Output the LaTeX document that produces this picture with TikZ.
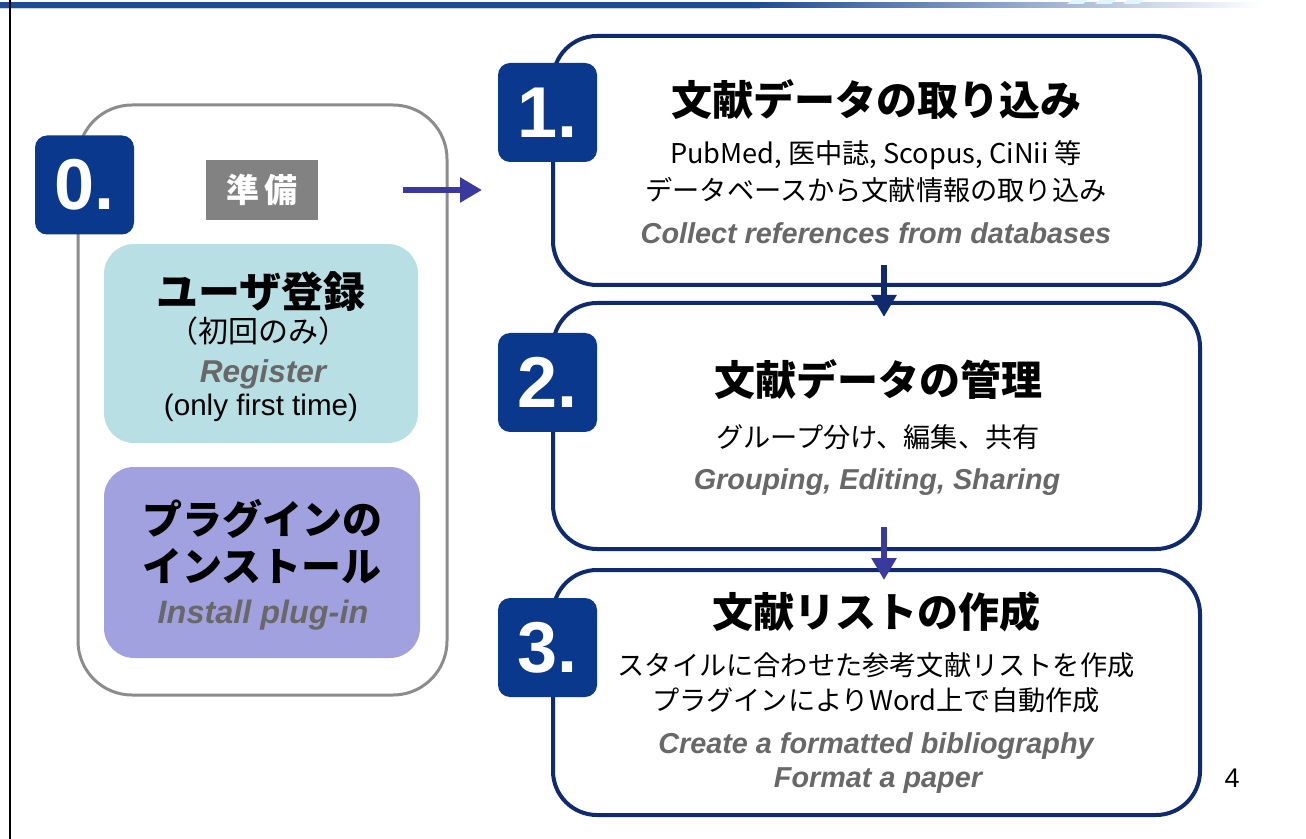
\documentclass[tikz,border=0pt]{standalone}
\usepackage{fontspec}
\setmainfont{Liberation Sans}
\newfontfamily\jp{Noto Sans CJK JP}
\usetikzlibrary{arrows.meta}
\definecolor{navy}{RGB}{16,42,112}
\definecolor{badgeblue}{RGB}{10,56,140}
\definecolor{arrowviolet}{RGB}{58,58,158}
\definecolor{barblue}{RGB}{30,76,150}
\definecolor{tealbox}{RGB}{184,223,228}
\definecolor{violetbox}{RGB}{161,161,224}
\definecolor{greytext}{RGB}{104,104,104}
\definecolor{greyline}{RGB}{140,140,140}
\pgfdeclarehorizontalshading{barfade}{100bp}{color(0bp)=(barblue); color(25bp)=(barblue); color(55bp)=(barblue); color(75bp)=(white); color(100bp)=(white)}
\begin{document}
\begin{tikzpicture}[x=0.5pt,y=-0.5pt,
  stepbox/.style={draw=navy,line width=2pt,rounded corners=22pt,fill=white,
    minimum width=323.5pt,inner sep=0pt},
  badge/.style={fill=badgeblue,rounded corners=6pt,minimum width=49.5pt,
    minimum height=49.5pt,inner sep=0pt,text=white,font=\bfseries\fontsize{36}{36}\selectfont},
  title/.style={font=\jp\bfseries\fontsize{20.5}{24}\selectfont},
  jtext/.style={font=\jp\fontsize{13.6}{16}\selectfont},
  entext/.style={text=greytext,font=\bfseries\itshape\fontsize{14.4}{17}\selectfont},
  flow/.style={line width=3pt,-{Triangle[length=11pt,width=12pt]}}]
\useasboundingbox (0,0) rectangle (1306,839);
% header bar and margin line
\shade[shading=barfade] (0,3) rectangle (1262,8);
\fill[barblue!25] (0,8) rectangle (760,9.5);
\fill[cyan!12] (1072,0) -- (1088,0) -- (1083,4) -- (1067,4) -- cycle;
\fill[cyan!12] (1100,0) -- (1116,0) -- (1111,4) -- (1095,4) -- cycle;
\fill[cyan!12] (1128,0) -- (1144,0) -- (1139,4) -- (1123,4) -- cycle;
\draw[black,line width=1pt] (10,0) -- (10,839);

% step 0
\node[draw=greyline,line width=1.5pt,rounded corners=27pt,minimum width=184.5pt,
  minimum height=295pt] (prep) at (262.5,400) {};
\node[badge] (b0) at (84.5,185) {0.};
\node[fill=gray!98,minimum width=56pt,minimum height=30pt,text=white,
  font=\jp\bfseries\fontsize{16.5}{16.5}\selectfont] (junbi) at (262,190) {準\,備};
\node[fill=tealbox,rounded corners=15pt,minimum width=157pt,minimum height=99.5pt]
  (register) at (261,343.5) {};
\node[title,font=\jp\bfseries\fontsize{21}{24}\selectfont] (regt) at (261,292) {ユーザ登録};
\node[jtext,font=\jp\fontsize{15}{17}\selectfont] (regj) at (258,331) {（初回のみ）};
\node[entext,font=\bfseries\itshape\fontsize{15.8}{18}\selectfont] (rege) at (263,374) {Register};
\node[font=\fontsize{14.8}{17}\selectfont] (regn) at (261,408) {(only first time)};
\node[fill=violetbox,rounded corners=15pt,minimum width=158pt,minimum height=95.5pt]
  (plugin) at (262,562.5) {};
\node[title,font=\jp\bfseries\fontsize{20}{24}\selectfont] (plugt) at (262,519) {プラグインの};
\node[title,font=\jp\bfseries\fontsize{20}{24}\selectfont] (plugu) at (262,566) {インストール};
\node[entext,font=\bfseries\itshape\fontsize{16.2}{19}\selectfont] (puge) at (263,615) {Install plug-in};

% step 1
\node[stepbox,minimum height=124.5pt] (s1) at (876.5,160.5) {};
\node[badge] (b1) at (547.5,112.5) {1.};
\node[title] (t1) at (876,100) {文献データの取り込み};
\node[jtext] (l1a) at (876,155) {PubMed, 医中誌, Scopus, CiNii 等};
\node[jtext] (l1b) at (876,190) {データベースから文献情報の取り込み};
\node[entext] (e1) at (876,233) {Collect references from databases};

% step 2
\node[stepbox,minimum height=123pt] (s2) at (876.5,426) {};
\node[badge] (b2) at (547.5,382.5) {2.};
\node[title] (t2) at (878,380) {文献データの管理};
\node[jtext] (l2a) at (878,437) {グループ分け、編集、共有};
\node[entext] (e2) at (877,482) {Grouping, Editing, Sharing};

% step 3
\node[stepbox,minimum height=122.5pt] (s3) at (876.5,692.5) {};
\node[badge] (b3) at (547.5,647.5) {3.};
\node[title] (t3) at (876,612) {文献リストの作成};
\node[jtext] (l3a) at (876,665) {スタイルに合わせた参考文献リストを作成};
\node[jtext] (l3b) at (876,700) {プラグインによりWord上で自動作成};
\node[entext] (e3a) at (876,746) {Create a formatted bibliography};
\node[entext] (e3b) at (878,781) {Format a paper};

\node[font=\fontsize{13.5}{15}\selectfont] (page) at (1232,778) {4};

% arrows
\coordinate (a0s) at (403,190);
\coordinate (a0e) at (482,190);
\coordinate (a1s) at (884,265);
\coordinate (a1e) at (884,317);
\coordinate (a2s) at (884,527);
\coordinate (a2e) at (884,580);
\draw[flow,arrowviolet] (a0s) -- (a0e);
\draw[flow,navy] (a1s) -- (a1e);
\draw[flow,arrowviolet] (a2s) -- (a2e);
\end{tikzpicture}
\end{document}
